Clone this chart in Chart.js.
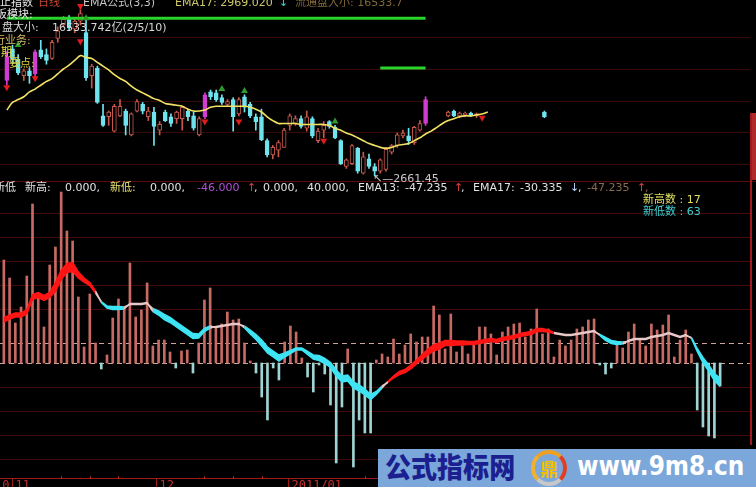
<!DOCTYPE html>
<html>
<head>
<meta charset="utf-8">
<script src="https://cdn.jsdelivr.net/npm/chart.js@4.4.1/dist/chart.umd.min.js"></script>
<style>
    body { margin: 0; background: #000; width: 756px; height: 487px; overflow: hidden; position: relative;
           font-family: "DejaVu Sans", "Noto Sans CJK SC", sans-serif; }
    canvas { position: absolute; left: 0; }
    #topChart { top: 0; }
    #bottomChart { top: 181px; }
    .t { position: absolute; font-size: 11px; line-height: 14px; white-space: pre; }
    #wm { position: absolute; left: 378px; top: 449px; width: 378px; height: 38px; background: #7ca7da; overflow: hidden; }
    #wm .cn { position: absolute; left: 7px; top: -3px; font: 900 28px "Noto Sans CJK SC"; color: #1b1f8f;
              transform: scaleX(0.93); transform-origin: left; }
    #wm .logo { position: absolute; left: 153px; top: 1px; width: 28px; height: 28px; border-radius: 50%;
                border: 4px solid; border-color: #f0a020 #e04020 #c8c8c8 #f0b030;
                font: 700 18px "Noto Sans CJK SC"; color: #f0c000; text-align: center; line-height: 28px; }
    #wm .url { position: absolute; left: 199px; top: 1px; font: 700 27px "DejaVu Sans"; color: #fff;
               transform: scaleX(0.86); transform-origin: left; }
</style>
</head>
<body>
<canvas id="topChart" width="756" height="181"></canvas>
<canvas id="bottomChart" width="756" height="306"></canvas>
<div style="position:absolute;left:0;top:181px;width:756px;height:1px;background:#5a0c0c"></div>
<div style="position:absolute;left:750px;top:113px;width:2px;height:332px;background:#a01c1c"></div>
<div style="position:absolute;left:752px;top:113px;width:4px;height:67px;background:#b02a2a"></div>
<div id="wm"><span class="cn">公式指标网</span><span class="logo">鼎</span><span class="url">www.9m8.cn</span></div>

<script>
// ---- 上方K线 (日线) ----
const dayIndex = Array.from({ length: 126 }, (_, i) => i);

const openP = [2961,3060,3027,2976,2991,2982,3057,3042,3030,3093, 3135,3156,3123,3147,3111,2976,3000,2850,2847,2802,
    2850,2865,2790,2865,2886,2847,2862,2805,2862,2847, 2841,2841,2865,2850,2790,2847,2925,2922,2907,2886,
    2901,2856,2910,2886,2847,2847,2772,2727,2742,2751, 2820,2826,2841,2811,2841,2772,2805,2832,2814,2772,
    2691,2700,2748,2670,2715,2691,2676,2682,2736,2757, 2787,2787,2766,2805,2826,null,null,null,2850,2865,
    2850,2853,2859,2850,null,null,null,null,null,null, null,null,null,null,null,2862];
const highP = [3051,3072,3042,2997,3000,3057,3087,3060,3087,3129, 3162,3165,3156,3183,3162,3012,3006,2886,2865,2886,
    2901,2871,2859,2901,2892,2877,2877,2832,2868,2856, 2865,2880,2871,2862,2847,2922,2931,2931,2916,2901,
    2907,2907,2916,2892,2856,2871,2778,2757,2772,2811, 2856,2850,2850,2865,2847,2811,2832,2835,2820,2775,
    2715,2760,2751,2736,2730,2700,2715,2751,2760,2796, 2805,2811,2817,2835,2910,null,null,null,2865,2868,
    2862,2862,2862,2859,null,null,null,null,null,null, null,null,null,null,null,2865];
const lowP = [2946,3015,2979,2961,2952,2973,3030,3012,3027,3081, 3129,3117,3111,3135,2961,2937,2889,2817,2820,2799,
    2847,2790,2787,2862,2856,2835,2757,2790,2832,2817, 2826,2805,2835,2805,2787,2841,2901,2895,2886,2880,
    2802,2850,2862,2844,2805,2772,2721,2715,2721,2751, 2805,2820,2811,2802,2781,2766,2781,2811,2778,2697,
    2685,2697,2670,2667,2685,2661.45,2670,2676,2730,2751, 2781,2760,2760,2802,2820,null,null,null,2847,2847,
    2844,2847,2847,2844,null,null,null,null,null,null, null,null,null,null,null,2844];
const closeP = [3036,3027,2985,2991,2976,3051,3036,3024,3081,3117, 3153,3126,3147,3171,2970,3006,2892,2820,2862,2880,
    2880,2820,2856,2895,2865,2865,2817,2823,2835,2826, 2862,2877,2847,2811,2841,2916,2910,2901,2892,2895,
    2847,2901,2877,2850,2832,2775,2727,2751,2766,2805, 2850,2841,2817,2847,2787,2802,2820,2817,2781,2700,
    2712,2757,2676,2721,2691,2676,2712,2745,2757,2790, 2796,2772,2814,2826,2901,null,null,null,2862,2850,
    2859,2859,2850,2856,null,null,null,null,null,null, null,null,null,null,null,2847];
const magentaDays = [0, 5, 35, 74];

// EMA17 黄线
const emaP = [2868,2892,2901,2910,2925,2934,2946,2958,2967,2982, 2997,3009,3024,3039,3033,3030,3018,3006,2994,2979,
    2967,2958,2943,2931,2922,2913,2904,2898,2889,2886, 2883,2880,2871,2865,2865,2868,2877,2880,2880,2880,
    2880,2880,2880,2877,2871,2862,2847,2835,2826,2826, 2826,2826,2823,2823,2823,2823,2823,2820,2811,2805,
    2796,2790,2781,2772,2763,2757,2751,2748,2751,2757, 2760,2763,2772,2781,2793,2802,2814,2826,2835,2841,
    2847,2850,2850,2853,2856,2862];

// 信号箭头 [日序号, 价位]
const sellMarks = [[0, 2940], [5, 2968], [13, 3084], [13, 3195], [35, 2832], [41, 2832], [56, 2772], [84, 2844]];
const buyMarks = [[2, 3072], [14, 3156], [38, 2934], [42, 2928], [58, 2832]];
const greenLevels = [{ price: 3156, from: 0, to: 74 }, { price: 3000, from: 66, to: 74 }];
const topGrid = [3096, 2997, 2898, 2799, 2700];

// ---- 下方 新高新低 指标 ----
const histVals = [206,170,80,112,174,318,140,72,196,232, 342,264,244,132,32,138,40,-12,16,90,
    128,110,200,92,106,160,34,46,46,22, -10,24,26,-20,40,126,150,72,78,102,
    86,88,40,4,-20,-68,-114,-10,-34,42, 74,62,10,-28,-58,-4,-22,-84,-200,-88,
    28,-208,-114,-140,-140,6,18,12,48,18, 36,58,42,52,52,114,96,28,98,22,
    34,18,38,72,72,58,16,62,72,78, 80,52,68,108,58,68,12,46,34,46,
    68,72,86,88,-4,-22,-10,38,30,62, 78,46,34,78,66,76,96,12,46,66,
    18,-94,-128,-146,-150,-46];
const ema13Vals = [90,96,100,100,106,137,141,135,141,161, 185,199,201,182,170,161,144,121,110,107,
    107,108,119,119,119,121,103,96,87,81, 73,65,57,49,50,63,70,73,75,77,
    79,79,70,58,47,34,20,12,4,12, 19,26,26,17,8,5,-1,-9,-26,-38,
    -36,-50,-56,-64,-73,-63,-50,-37,-26,-17, -13,-4,6,17,28,36,40,45,45,44,
    44,43,43,45,47,49,47,51,53,55, 59,61,63,69,69,66,61,59,57,57,
    59,61,63,65,55,45,39,37,38,45, 49,49,49,53,55,57,61,57,53,57,
    49,23,1,-16,-35,-47];
const ema17Vals = [82,88,92,92,98,127,131,125,131,143, 167,181,183,170,162,155,140,123,114,113,
    113,112,117,117,117,119,109,104,97,91, 83,75,67,59,58,69,74,71,73,75,
    77,77,74,66,57,46,32,24,16,20, 25,30,30,23,16,15,9,1,-14,-26,
    -24,-38,-44,-52,-63,-57,-46,-39,-30,-23, -19,-12,-2,7,16,24,28,35,35,36,
    36,37,37,39,41,43,41,45,47,49, 53,55,57,63,63,62,59,57,55,55,
    57,59,61,63,57,51,45,43,42,43, 47,47,47,51,53,55,59,55,51,55,
    51,29,11,-4,-21,-30];
const refLevels = [0, 40];
const gridLevels = [300, 252, 204, 156, 108, -48, -96, -144, -192];

// 日期刻度
const prevMonthLabel = '2010/10';
const dateMarks = [{ index: 2, label: '11' }, { index: 27, label: '12' }, { index: 50, label: '2011/01' }];
const weekTicks = [10, 15, 20, 35, 40, 45, 63];

// 文字
const texts = [
    [0, 3, '#e8e8e8', '止指数'], [38, 3, '#c84830', '日线'], [83, 3, '#c8c8c8', 'EMA公式(3,3)'],
    [175, 3, '#d0c868', 'EMA17: 2969.020'], [279, 3, '#40d0e0', '↓'], [295, 3, '#806838', '流通盘大小: 16533.7'],
    [-4, 15, '#e8e8e8', '板模块:'],
    [2, 28, '#d8d8d8', '盘大小:'], [52, 28, '#d8d8d8', '16533.742亿(2/5/10)'],
    [-6, 41, '#c8b868', '行业务:'], [-10, 53, '#e0e040', '周期:'], [9, 64, '#d8d040', '要点:'],
    [373, 179, '#c8c8c8', '↖—2661.45'],
    [-6, 188, '#e0e0e0', '新低'], [25, 188, '#e0e0e0', '新高:'], [65, 188, '#e0e0e0', '0.000,'],
    [110, 188, '#e8e070', '新低:'], [150, 188, '#e0e0e0', '0.000,'],
    [197, 188, '#b050d8', '-46.000'], [247, 188, '#e04040', '↑'], [254, 188, '#e0e0e0', ','],
    [263, 188, '#e0e0e0', '0.000,'], [307, 188, '#e0e0e0', '40.000,'],
    [358, 188, '#e0e0e0', 'EMA13:'], [405, 188, '#e0e0e0', '-47.235'], [454, 188, '#e04040', '↑'], [461, 188, '#e0e0e0', ','],
    [473, 188, '#e0e0e0', 'EMA17:'], [520, 188, '#e0e0e0', '-30.335'], [570, 188, '#c0d8ff', '↓'], [578, 188, '#e0e0e0', ','],
    [587, 188, '#8a6a50', '-47.235'], [637, 188, '#e04040', '↑'], [645, 188, '#8a6a50', ','],
    [643, 200, '#e0e060', '新高数 : 17'], [643, 212, '#40d0d0', '新低数 : 63']
];

texts.forEach(([x, y, color, s]) => {
    const el = document.createElement('div');
    el.className = 't';
    el.style.left = x + 'px';
    el.style.top = (y - 7) + 'px';
    el.style.color = color;
    el.textContent = s;
    document.body.appendChild(el);
});

// 颜色
function candleColor(i) {
    if (magentaDays.includes(i)) return '#d23cd2';
    return closeP[i] >= openP[i] ? '#c8584c' : '#70e4ee';
}
function bodyFill(i) {
    if (magentaDays.includes(i)) return '#d23cd2';
    return closeP[i] >= openP[i] ? '#000000' : '#70e4ee';
}
function ribbonColor(ctx) {
    const a = ctx.p0DataIndex, b = ctx.p1DataIndex;
    const d = (ema13Vals[a] - ema17Vals[a] + ema13Vals[b] - ema17Vals[b]) / 2;
    if (d > 2.5) return '#ff1414';
    if (d < -2.5) return '#3ee4f4';
    return '#e8c8c8';
}

// 网格插件
const topDecor = {
    id: 'topDecor',
    beforeDatasetsDraw(chart) {
        const { ctx, scales: { y } } = chart;
        ctx.save();
        ctx.strokeStyle = 'rgba(100,16,16,0.55)';
        ctx.lineWidth = 1;
        topGrid.forEach(v => {
            const py = Math.round(y.getPixelForValue(v)) + 0.5;
            ctx.beginPath(); ctx.moveTo(0, py); ctx.lineTo(750, py); ctx.stroke();
        });
        ctx.restore();
    }
};

const bottomDecor = {
    id: 'bottomDecor',
    beforeDatasetsDraw(chart) {
        const { ctx, scales: { y } } = chart;
        ctx.save();
        ctx.lineWidth = 1;
        ctx.strokeStyle = 'rgba(110,18,18,0.6)';
        gridLevels.forEach(v => {
            const py = Math.round(y.getPixelForValue(v)) + 0.5;
            ctx.beginPath(); ctx.moveTo(0, py); ctx.lineTo(750, py); ctx.stroke();
        });
        ctx.setLineDash([5, 4]);
        ctx.strokeStyle = '#cfa49c';
        refLevels.forEach(v => {
            const py = Math.round(y.getPixelForValue(v)) + 0.5;
            ctx.beginPath(); ctx.moveTo(0, py); ctx.lineTo(750, py); ctx.stroke();
        });
        ctx.restore();
    },
    afterDraw(chart) {
        const { ctx, chartArea, scales: { x } } = chart;
        const by = Math.round(chartArea.bottom) + 0.5;
        const half = (x.getPixelForValue(1) - x.getPixelForValue(0)) / 2;
        ctx.save();
        ctx.strokeStyle = '#a01818';
        ctx.lineWidth = 1;
        ctx.beginPath(); ctx.moveTo(0, by); ctx.lineTo(756, by); ctx.stroke();
        ctx.fillStyle = '#c83030';
        ctx.font = '12px "DejaVu Sans Mono"';
        ctx.textBaseline = 'top';
        weekTicks.forEach(i => {
            const px = Math.round(x.getPixelForValue(i));
            ctx.fillRect(px, by - 2, 1, 2);
        });
        dateMarks.forEach((m, k) => {
            const px = Math.round(x.getPixelForValue(m.index) - half) + 0.5;
            ctx.beginPath(); ctx.moveTo(px, by); ctx.lineTo(px, by + 9); ctx.stroke();
            ctx.textAlign = 'left';
            ctx.fillText(m.label, px + 3, by + 1);
            if (k === 0) {
                ctx.textAlign = 'right';
                ctx.fillText(prevMonthLabel, px - 3, by + 1);
            }
        });
        ctx.restore();
    }
};

new Chart(document.getElementById('topChart'), {
    type: 'bar',
    data: {
        labels: dayIndex,
        datasets: [
            { type: 'line', data: emaP, borderColor: '#f2e264', borderWidth: 1.6, pointRadius: 0, tension: 0.3 },
            { type: 'line', data: sellMarks.map(([i, p]) => ({ x: i, y: p })), showLine: false,
              pointStyle: 'triangle', rotation: 180, pointRadius: 4, pointBackgroundColor: '#e01c1c', pointBorderWidth: 0 },
            { type: 'line', data: buyMarks.map(([i, p]) => ({ x: i, y: p })), showLine: false,
              pointStyle: 'triangle', pointRadius: 4, pointBackgroundColor: '#2c9a2c', pointBorderWidth: 0 },
            { type: 'line', data: [{ x: greenLevels[0].from, y: greenLevels[0].price }, { x: greenLevels[0].to, y: greenLevels[0].price }],
              borderColor: '#2ad42a', borderWidth: 3, pointRadius: 0 },
            { type: 'line', data: [{ x: greenLevels[1].from, y: greenLevels[1].price }, { x: greenLevels[1].to, y: greenLevels[1].price }],
              borderColor: '#2ad42a', borderWidth: 3, pointRadius: 0 },
            { data: openP.map((o, i) => o == null ? null : [o, closeP[i]]),
              backgroundColor: c => bodyFill(c.dataIndex), borderColor: c => candleColor(c.dataIndex),
              borderWidth: 1, borderSkipped: false, barThickness: 4, minBarLength: 1, grouped: false },
            { data: lowP.map((l, i) => l == null ? null : [l, highP[i]]),
              backgroundColor: c => candleColor(c.dataIndex), borderWidth: 0, barThickness: 1, grouped: false }
        ]
    },
    options: {
        responsive: false,
        animation: false,
        layout: { padding: { left: 1, right: 39, top: 0, bottom: 0 } },
        scales: {
            x: { display: false },
            y: { display: false, min: 2658, max: 3201 }
        },
        plugins: { legend: { display: false }, tooltip: { enabled: false } }
    },
    plugins: [topDecor]
});

new Chart(document.getElementById('bottomChart'), {
    type: 'bar',
    data: {
        labels: dayIndex,
        datasets: [
            { type: 'line', data: ema13Vals, borderWidth: 1.5, pointRadius: 0, fill: false,
              segment: { borderColor: ribbonColor } },
            { type: 'line', data: ema17Vals, borderWidth: 1.5, pointRadius: 0, fill: '-1',
              segment: { borderColor: ribbonColor, backgroundColor: ribbonColor } },
            { data: histVals, backgroundColor: histVals.map(v => v >= 0 ? '#c86a64' : '#9fd4d4'),
              barThickness: 2, grouped: false }
        ]
    },
    options: {
        responsive: false,
        animation: false,
        layout: { padding: { left: 1, right: 33, top: 0, bottom: 9 } },
        scales: {
            x: { display: false },
            y: { display: false, min: -230, max: 364 }
        },
        plugins: { legend: { display: false }, tooltip: { enabled: false } }
    },
    plugins: [bottomDecor]
});
</script>
</body>
</html>
